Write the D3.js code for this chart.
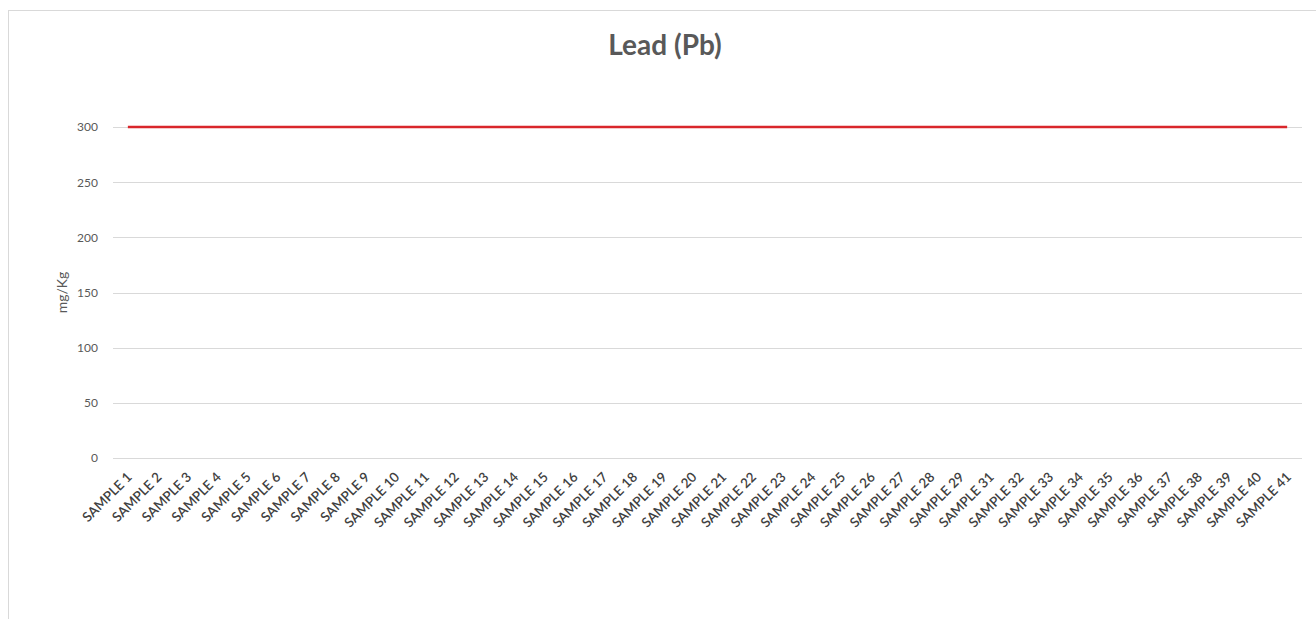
<!DOCTYPE html>
<html>
<head>
<meta charset="utf-8">
<script src="https://cdn.jsdelivr.net/npm/d3@7"></script>
<style>
  body { margin: 0; background: #fff; }
  svg { display: block; }
  svg text { font-family: Lato, "Open Sans", sans-serif; }
</style>
</head>
<body>
<div id="chart"></div>
<script>
const samples = [
  'SAMPLE 1', 'SAMPLE 2', 'SAMPLE 3', 'SAMPLE 4', 'SAMPLE 5', 'SAMPLE 6', 'SAMPLE 7', 'SAMPLE 8',
  'SAMPLE 9', 'SAMPLE 10', 'SAMPLE 11', 'SAMPLE 12', 'SAMPLE 13', 'SAMPLE 14', 'SAMPLE 15', 'SAMPLE 16',
  'SAMPLE 17', 'SAMPLE 18', 'SAMPLE 19', 'SAMPLE 20', 'SAMPLE 21', 'SAMPLE 22', 'SAMPLE 23', 'SAMPLE 24',
  'SAMPLE 25', 'SAMPLE 26', 'SAMPLE 27', 'SAMPLE 28', 'SAMPLE 29', 'SAMPLE 31', 'SAMPLE 32', 'SAMPLE 33',
  'SAMPLE 34', 'SAMPLE 35', 'SAMPLE 36', 'SAMPLE 37', 'SAMPLE 38', 'SAMPLE 39', 'SAMPLE 40', 'SAMPLE 41',
];
const limitValues = [
  300, 300, 300, 300, 300, 300, 300, 300, 300, 300, 300, 300, 300, 300, 300, 300, 300, 300, 300, 300,
  300, 300, 300, 300, 300, 300, 300, 300, 300, 300, 300, 300, 300, 300, 300, 300, 300, 300, 300, 300,
];
const yTicks = [0, 50, 100, 150, 200, 250, 300];

const width = 1316;
const height = 619;
const margin = { top: 127, right: 14, bottom: 161, left: 113 };
const innerW = width - margin.left - margin.right;
const innerH = height - margin.top - margin.bottom;

const svg = d3.select('#chart')
  .append('svg')
  .attr('width', width)
  .attr('height', height);

// chart frame
svg.append('rect')
  .attr('x', 8.5)
  .attr('y', 10.5)
  .attr('width', width + 20)
  .attr('height', height + 20)
  .attr('fill', 'none')
  .attr('stroke', '#d9d9d9');

const g = svg.append('g')
  .attr('transform', `translate(${margin.left}, ${margin.top})`);

const x = d3.scaleBand()
  .domain(samples)
  .range([0, innerW]);

const y = d3.scaleLinear()
  .domain([0, 300])
  .range([innerH, 0]);

// gridlines
g.append('g')
  .selectAll('line')
  .data(yTicks)
  .join('line')
  .attr('x1', 0)
  .attr('x2', innerW)
  .attr('y1', d => Math.round(y(d)) + 0.5)
  .attr('y2', d => Math.round(y(d)) + 0.5)
  .attr('stroke', '#d9d9d9');

// y axis labels
const yAxis = d3.axisLeft(y).tickValues(yTicks).tickSize(0).tickPadding(15);
g.append('g')
  .call(yAxis)
  .call(s => s.select('.domain').remove())
  .attr('font-family', null)
  .selectAll('text')
  .attr('fill', '#595959')
  .style('font-size', '12px');

// x axis labels
const xAxis = d3.axisBottom(x).tickSize(0).tickPadding(0);
g.append('g')
  .attr('transform', `translate(0, ${innerH})`)
  .call(xAxis)
  .call(s => s.select('.domain').remove())
  .attr('font-family', null)
  .selectAll('text')
  .attr('fill', '#404040')
  .style('font-size', '13.5px')
  .style('font-weight', '600')
  .attr('text-anchor', 'end')
  .attr('dy', 0)
  .attr('transform', 'translate(5, 20) rotate(-45)');

// limit line
const line = d3.line()
  .x((d, i) => x(samples[i]) + x.bandwidth() / 2)
  .y(d => y(d));

g.append('path')
  .datum(limitValues)
  .attr('d', line)
  .attr('fill', 'none')
  .attr('stroke', '#d9262b')
  .attr('stroke-width', 2.5);

// title
svg.append('text')
  .attr('x', 665)
  .attr('y', 55)
  .attr('text-anchor', 'middle')
  .attr('fill', '#595959')
  .style('font-size', '28px')
  .style('font-weight', 'bold')
  .text('Lead (Pb)');

// y axis title
svg.append('text')
  .attr('transform', `translate(67, ${margin.top + innerH / 2}) rotate(-90)`)
  .attr('text-anchor', 'middle')
  .attr('fill', '#595959')
  .style('font-size', '14px')
  .text('mg/Kg');
</script>
</body>
</html>
